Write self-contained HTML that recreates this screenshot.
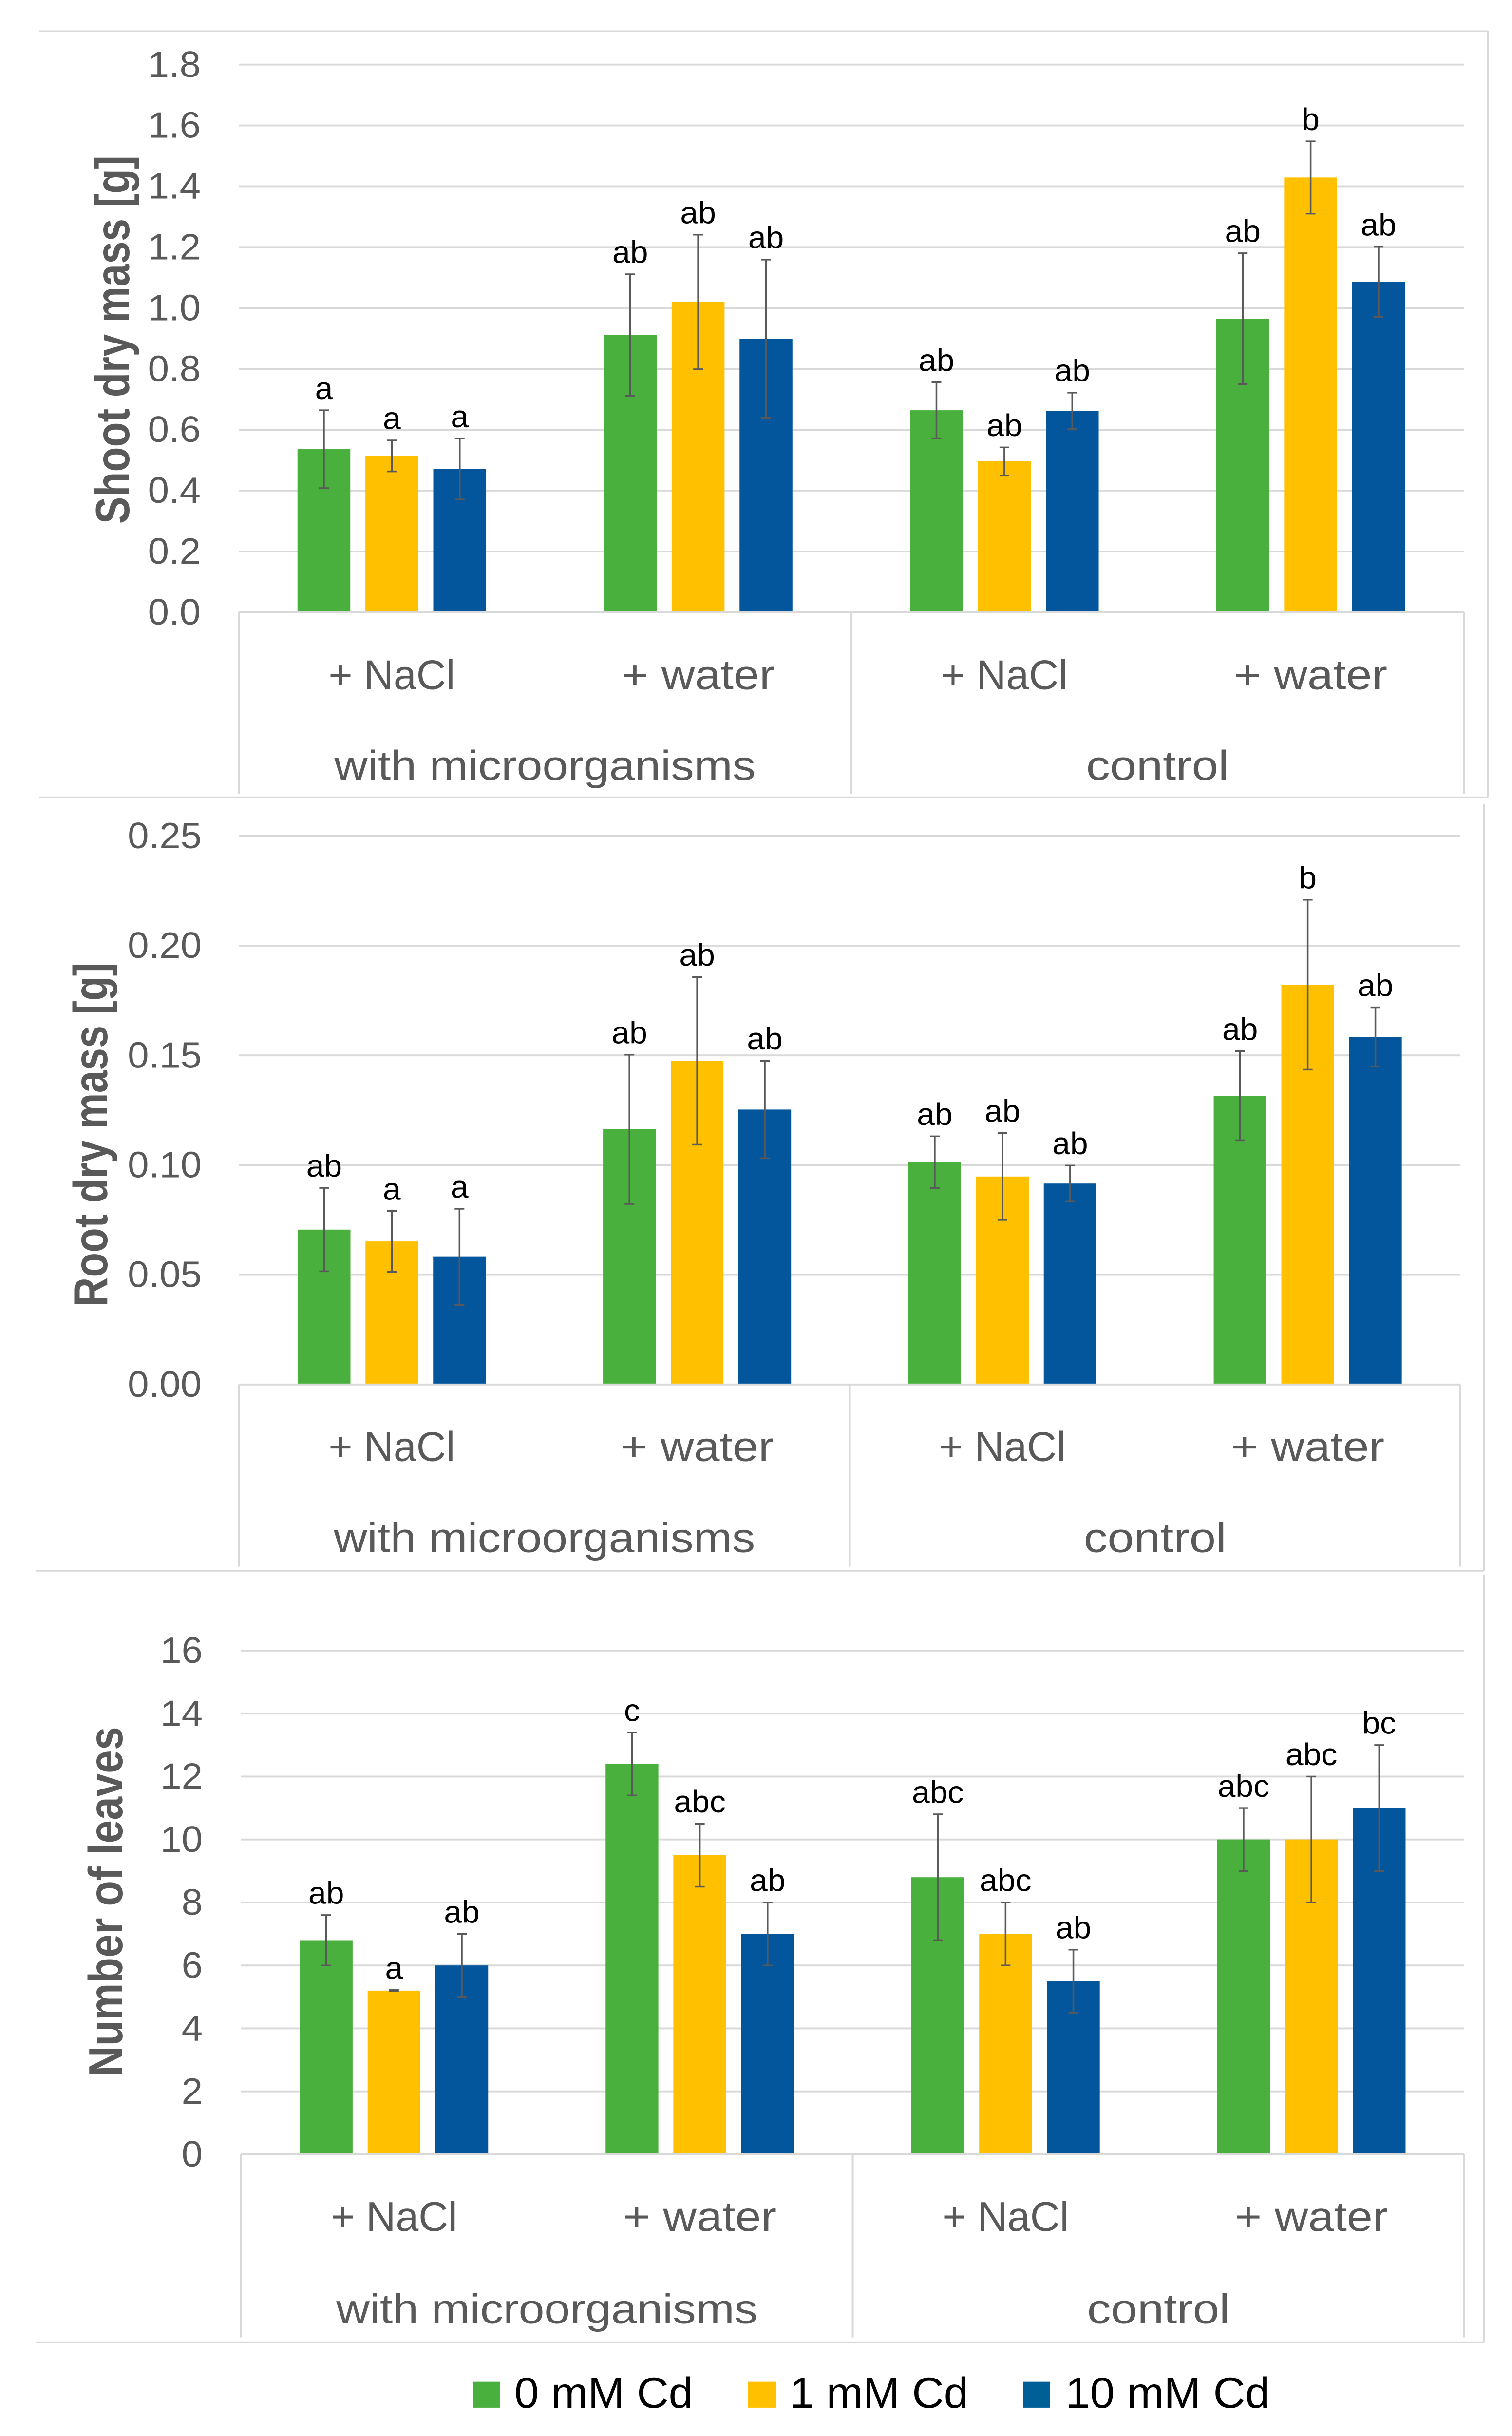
<!DOCTYPE html>
<html lang="en">
<head>
<meta charset="utf-8">
<title>Shoot mass, root mass and leaf number by treatment</title>
<style>
html,body{margin:0;padding:0;background:#fff;width:100%;height:100%;overflow:hidden}
svg{display:block;width:100%;height:100%;font-family:"Liberation Sans",Arial,sans-serif}
</style>
</head>
<body>
<svg id="figure" xmlns="http://www.w3.org/2000/svg" viewBox="0 0 3104 5164" preserveAspectRatio="none">
  <rect x="0" y="0" width="3104" height="5164" fill="#ffffff"/>
  <g id="panels"></g>
  <g>
    <g>
      <rect x="972" y="5049" width="55" height="55" fill="#4ab03d"/>
      <text x="1056" y="5104" font-size="92" fill="#000" textLength="367" lengthAdjust="spacingAndGlyphs">0 mM Cd</text>
    </g>
    <g>
      <rect x="1536" y="5049" width="57" height="55" fill="#ffc000"/>
      <text x="1621" y="5104" font-size="92" fill="#000" textLength="367" lengthAdjust="spacingAndGlyphs">1 mM Cd</text>
    </g>
    <g>
      <rect x="2100" y="5049" width="56" height="55" fill="#005f96"/>
      <text x="2187" y="5104" font-size="92" fill="#000" textLength="420" lengthAdjust="spacingAndGlyphs">10 mM Cd</text>
    </g>
  </g>
</svg>
<script>
// Shared categories
const treatments = ['+ NaCl', '+ water', '+ NaCl', '+ water'];
const groups = ['with microorganisms', 'control'];
const seriesNames = ['0 mM Cd', '1 mM Cd', '10 mM Cd'];
const seriesColors = ['#4ab03d', '#ffc000', '#03559c'];

// Shoot dry mass
const shootTicks = ['0.0', '0.2', '0.4', '0.6', '0.8', '1.0', '1.2', '1.4', '1.6', '1.8'];
const shoot0 = [0.536, 0.911, 0.664, 0.965];
const shoot1 = [0.514, 1.02, 0.496, 1.429];
const shoot10 = [0.471, 0.899, 0.662, 1.086];
const shootErr0 = [0.128, 0.2, 0.092, 0.215];
const shootErr1 = [0.051, 0.221, 0.046, 0.119];
const shootErr10 = [0.1, 0.26, 0.06, 0.115];
const shootLetters0 = ['a', 'ab', 'ab', 'ab'];
const shootLetters1 = ['a', 'ab', 'ab', 'b'];
const shootLetters10 = ['a', 'ab', 'ab', 'ab'];

// Root dry mass
const rootTicks = ['0.00', '0.05', '0.10', '0.15', '0.20', '0.25'];
const root0 = [0.0706, 0.1163, 0.1013, 0.1316];
const root1 = [0.0652, 0.1475, 0.0948, 0.1822];
const root10 = [0.0582, 0.1253, 0.0916, 0.1584];
const rootErr0 = [0.019, 0.034, 0.0118, 0.0203];
const rootErr1 = [0.0139, 0.0382, 0.0198, 0.0387];
const rootErr10 = [0.0219, 0.0222, 0.0082, 0.0135];
const rootLetters0 = ['ab', 'ab', 'ab', 'ab'];
const rootLetters1 = ['a', 'ab', 'ab', 'b'];
const rootLetters10 = ['a', 'ab', 'ab', 'ab'];

// Number of leaves
const leafTicks = ['0', '2', '4', '6', '8', '10', '12', '14', '16'];
const leaf0 = [6.8, 12.4, 8.8, 10];
const leaf1 = [5.2, 9.5, 7, 10];
const leaf10 = [6, 7, 5.5, 11];
const leafErr0 = [0.8, 1, 2, 1];
const leafErr1 = [0.02, 1, 1, 2];
const leafErr10 = [1, 1, 1, 2];
const leafLetters0 = ['ab', 'c', 'abc', 'abc'];
const leafLetters1 = ['a', 'abc', 'abc', 'abc'];
const leafLetters10 = ['ab', 'ab', 'ab', 'bc'];

const NS = 'http://www.w3.org/2000/svg';
const GRID = '#d9d9d9';
const INK = '#595959';

function make(tag, parent, props, text) {
  const node = document.createElementNS(NS, tag);
  for (const key in props) node.setAttribute(key, props[key]);
  if (text !== undefined) node.textContent = text;
  parent.appendChild(node);
  return node;
}

function drawPanel(cfg) {
  const root = document.getElementById('panels');
  const panel = make('g', root, {});
  
  

  const maxTick = parseFloat(cfg.ticks[cfg.ticks.length - 1]);
  const yScale = v => cfg.y0 - (v / maxTick) * (cfg.y0 - cfg.yTop);
  const band = (cfg.xRight - cfg.xLeft) / treatments.length;
  const xCenter = i => cfg.xLeft + band * (i + 0.5);
  const barWidth = band * 0.1726;
  const barStep = band * 0.2217;

  // outer frame
  if (cfg.topLine) {
    const frameTop = make('line', panel, {x1: cfg.frameLeft, x2: cfg.frameRight, y1: cfg.frameTop, y2: cfg.frameTop, stroke: GRID, 'stroke-width': 3});
    
    
  }
  const frameBottom = make('line', panel, {x1: cfg.frameLeft, x2: cfg.frameRight, y1: cfg.frameBottom, y2: cfg.frameBottom, stroke: GRID, 'stroke-width': 3});
  
  
  const frameSide = make('line', panel, {x1: cfg.frameRight, x2: cfg.frameRight, y1: cfg.frameTop, y2: cfg.frameBottom, stroke: GRID, 'stroke-width': 4});
  
  

  // gridlines and tick labels
  cfg.ticks.forEach(label => {
    const v = parseFloat(label);
    const y = yScale(v);
    const grid = make('line', panel, {x1: cfg.xLeft, x2: cfg.xRight, y1: y, y2: y, stroke: GRID, 'stroke-width': 4});
    
    
    const tick = make('text', panel, {x: cfg.tickX, y: y + 26, 'text-anchor': 'end', 'font-size': 78, fill: INK}, label);
    
    
  });

  // category box
  [cfg.xLeft, (cfg.xLeft + cfg.xRight) / 2, cfg.xRight].forEach(x => {
    const sep = make('line', panel, {x1: x, x2: x, y1: cfg.y0, y2: cfg.catBottom, stroke: GRID, 'stroke-width': 4});
    
    
  });

  treatments.forEach((name, i) => {
    const label = make('text', panel, {
      x: xCenter(i), y: cfg.catBase, 'text-anchor': 'middle', 'font-size': 88, fill: INK,
      textLength: name === '+ NaCl' ? 260 : 315, lengthAdjust: 'spacingAndGlyphs'
    }, name);
    
    
  });

  groups.forEach((name, i) => {
    const label = make('text', panel, {
      x: cfg.xLeft + band * (i * 2 + 1), y: cfg.groupBase, 'text-anchor': 'middle', 'font-size': 88, fill: INK,
      textLength: i === 0 ? 865 : 293, lengthAdjust: 'spacingAndGlyphs'
    }, name);
    
    
  });

  // axis title
  const title = make('text', panel, {
    transform: 'translate(' + cfg.titleX + ',' + cfg.titleY + ') rotate(-90)',
    'text-anchor': 'middle', 'font-size': 98, 'font-weight': 'bold', fill: INK,
    textLength: cfg.titleLength, lengthAdjust: 'spacingAndGlyphs'
  }, cfg.title);
  
  

  // bars first, error bars and letters above
  cfg.series.forEach((values, s) => {
    values.forEach((v, i) => {
      const cx = xCenter(i) + (s - 1) * barStep;
      const bar = make('rect', panel, {
        x: cx - barWidth / 2, y: yScale(v), width: barWidth, height: cfg.y0 - yScale(v) - 2, fill: seriesColors[s]
      });
      
      
    });
  });

  cfg.series.forEach((values, s) => {
    values.forEach((v, i) => {
      const cx = xCenter(i) + (s - 1) * barStep;
      const e = cfg.errors[s][i];
      const hi = yScale(v + e);
      const lo = yScale(v - e);
      const whisker = make('path', panel, {
        d: 'M' + (cx - 10) + ' ' + hi + 'H' + (cx + 10) + 'M' + cx + ' ' + hi + 'V' + lo + 'M' + (cx - 10) + ' ' + lo + 'H' + (cx + 10),
        stroke: '#595959', 'stroke-width': 3.5, fill: 'none'
      });
      
      
      const letter = make('text', panel, {
        x: cx, y: hi - 24, 'text-anchor': 'middle', 'font-size': 66, fill: '#000'
      }, cfg.letters[s][i]);
      
      
    });
  });
}

drawPanel({
  key: 'shoot', title: 'Shoot dry mass [g]', titleX: 265, titleY: 720, titleLength: 781, topLine: true,
  ticks: shootTicks, series: [shoot0, shoot1, shoot10], errors: [shootErr0, shootErr1, shootErr10],
  letters: [shootLetters0, shootLetters1, shootLetters10],
  y0: 1298, yTop: 137, xLeft: 490, xRight: 3005, tickX: 412, catBase: 1461, groupBase: 1653, catBottom: 1683,
  frameLeft: 80, frameRight: 3054, frameTop: 66, frameBottom: 1690
});
drawPanel({
  key: 'root', title: 'Root dry mass [g]', titleX: 220, titleY: 2405, titleLength: 729, topLine: false,
  ticks: rootTicks, series: [root0, root1, root10], errors: [rootErr0, rootErr1, rootErr10],
  letters: [rootLetters0, rootLetters1, rootLetters10],
  y0: 2935, yTop: 1772, xLeft: 491, xRight: 2998, tickX: 414, catBase: 3097, groupBase: 3290, catBottom: 3321,
  frameLeft: 74, frameRight: 3047, frameTop: 1704, frameBottom: 3330
});
drawPanel({
  key: 'leaves', title: 'Number of leaves', titleX: 251, titleY: 4031, titleLength: 741, topLine: false,
  ticks: leafTicks, series: [leaf0, leaf1, leaf10], errors: [leafErr0, leafErr1, leafErr10],
  letters: [leafLetters0, leafLetters1, leafLetters10],
  y0: 4567, yTop: 3499, xLeft: 495, xRight: 3006, tickX: 416, catBase: 4729, groupBase: 4925, catBottom: 4955,
  frameLeft: 74, frameRight: 3047, frameTop: 3339, frameBottom: 4966
});
</script>
</body>
</html>
